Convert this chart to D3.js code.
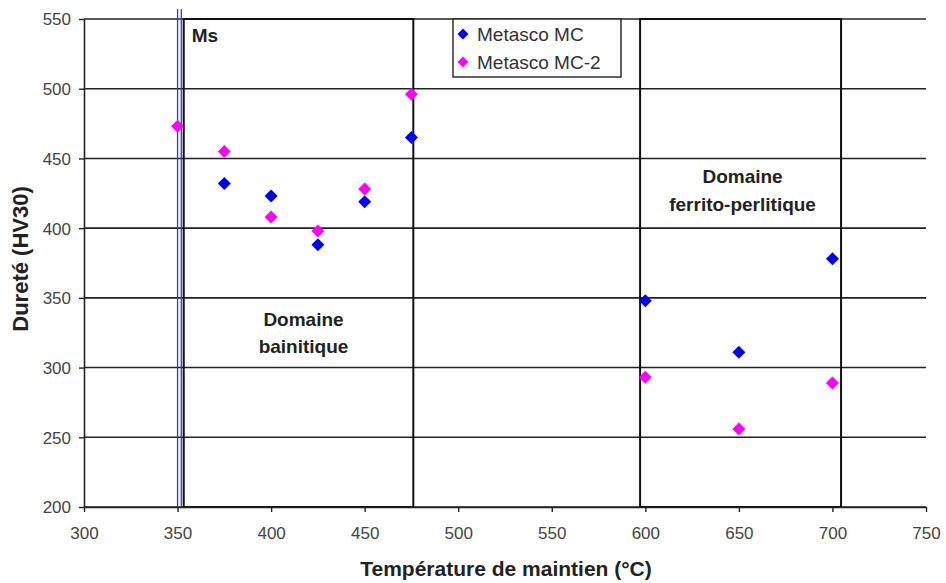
<!DOCTYPE html>
<html>
<head>
<meta charset="utf-8">
<script src="https://cdn.jsdelivr.net/npm/d3@7"></script>
<style>
  body { margin: 0; background: #fff; }
  text { font-family: "Liberation Sans", Arial, sans-serif; }
</style>
</head>
<body>
<div class="chart"></div>
<script>
// temperatures (°C) and hardness (HV30)
const tempsMC = [375, 400, 425, 450, 475, 600, 650, 700];
const hvMC = [432, 423, 388, 419, 465, 348, 311, 378];
const tempsMC2 = [350, 375, 400, 425, 450, 475, 600, 650, 700];
const hvMC2 = [473, 455, 408, 398, 428, 496, 293, 256, 289];
const seriesNames = ["Metasco MC", "Metasco MC-2"];
const xTicks = [300, 350, 400, 450, 500, 550, 600, 650, 700, 750];
const yTicks = [200, 250, 300, 350, 400, 450, 500, 550];
// domain boxes [x0, x1, yTop, yBottom] and Ms lines
const boxBainite = [353.3, 476, 550, 200];
const boxFerrite = [597.2, 704.6, 550, 200];
const msLines = [350, 352];

const width = 946, height = 583;
const margin = { top: 19, right: 20, bottom: 76, left: 84 };

const svg = d3.select(".chart").append("svg")
  .attr("width", width)
  .attr("height", height);

const x = d3.scaleLinear().domain([300, 750]).range([margin.left, width - margin.right]);
const y = d3.scaleLinear().domain([200, 550]).range([height - margin.bottom, margin.top]);

// rotated square, like the spreadsheet markers
const diamond = s => "M0," + -s + "L" + s + ",0L0," + s + "L" + -s + ",0Z";

// horizontal grid
svg.append("g")
  .selectAll("line")
  .data(yTicks)
  .enter().append("line")
  .attr("x1", x(300)).attr("x2", x(750))
  .attr("y1", d => y(d)).attr("y2", d => y(d))
  .attr("stroke", "#222").attr("stroke-width", 1.6);

// domain boxes
[boxBainite, boxFerrite].forEach(b => {
  svg.append("rect")
    .attr("x", x(b[0]))
    .attr("y", y(b[2]))
    .attr("width", x(b[1]) - x(b[0]))
    .attr("height", y(b[3]) - y(b[2]))
    .attr("fill", "none")
    .attr("stroke", "#111")
    .attr("stroke-width", 2);
});

// Ms lines
svg.append("g")
  .selectAll("line")
  .data(msLines)
  .enter().append("line")
  .attr("x1", d => x(d)).attr("x2", d => x(d))
  .attr("y1", y(550) - 10).attr("y2", y(200))
  .attr("stroke", "#3333ee").attr("stroke-width", 1.3);

// axes
const xAxis = d3.axisBottom(x).tickValues(xTicks).tickSize(5).tickSizeOuter(0);
const yAxis = d3.axisLeft(y).tickValues(yTicks).tickSize(5).tickSizeOuter(0);

const gx = svg.append("g")
  .attr("transform", "translate(0," + y(200) + ")")
  .call(xAxis);
const gy = svg.append("g")
  .attr("transform", "translate(" + x(300) + ",0)")
  .call(yAxis);

[gx, gy].forEach(g => {
  g.select(".domain").attr("stroke", "#222").attr("stroke-width", 1.6);
  g.selectAll(".tick line").attr("stroke", "#222").attr("stroke-width", 1.4);
  g.selectAll(".tick text")
    .attr("fill", "#444")
    .style("font-size", "17px")
    .style("font-family", "'Liberation Sans', Arial, sans-serif");
});
gx.selectAll(".tick text").attr("y", 20).attr("dy", "0.71em");
gy.selectAll(".tick text").attr("x", -13).attr("dy", "0.35em");

// markers
const mc = tempsMC.map((t, i) => ({ t: t, v: hvMC[i] }));
const mc2 = tempsMC2.map((t, i) => ({ t: t, v: hvMC2[i] }));

svg.append("g").selectAll("path")
  .data(mc2).enter().append("path")
  .attr("d", diamond(6.5))
  .attr("transform", d => "translate(" + x(d.t) + "," + y(d.v) + ")")
  .attr("fill", "#ff00ff");

svg.append("g").selectAll("path")
  .data(mc).enter().append("path")
  .attr("d", diamond(6.5))
  .attr("transform", d => "translate(" + x(d.t) + "," + y(d.v) + ")")
  .attr("fill", "#0000ee");

// annotations
svg.append("text")
  .attr("x", x(boxBainite[0]) + 8).attr("y", 42)
  .attr("font-size", 19).attr("font-weight", "bold").attr("fill", "#222")
  .text("Ms");

const bainite = svg.append("text")
  .attr("text-anchor", "middle")
  .attr("font-size", 19).attr("font-weight", "bold").attr("fill", "#222");
const bx = (x(boxBainite[0]) + x(boxBainite[1])) / 2 + 5;
bainite.append("tspan").attr("x", bx).attr("y", 326).text("Domaine");
bainite.append("tspan").attr("x", bx).attr("y", 353).text("bainitique");

const ferrite = svg.append("text")
  .attr("text-anchor", "middle")
  .attr("font-size", 19).attr("font-weight", "bold").attr("fill", "#222");
const fx = (x(boxFerrite[0]) + x(boxFerrite[1])) / 2 + 2;
ferrite.append("tspan").attr("x", fx).attr("y", 183).text("Domaine");
ferrite.append("tspan").attr("x", fx).attr("y", 211).text("ferrito-perlitique");

// legend
const legend = svg.append("g").attr("transform", "translate(453,19)");
legend.append("rect")
  .attr("width", 168).attr("height", 58)
  .attr("fill", "#fff").attr("stroke", "#222").attr("stroke-width", 1.4);
const legendColors = ["#0000ee", "#ff00ff"];
seriesNames.forEach((name, i) => {
  const row = legend.append("g").attr("transform", "translate(0," + (15 + i * 28) + ")");
  row.append("path")
    .attr("d", diamond(5.5))
    .attr("transform", "translate(10,0)")
    .attr("fill", legendColors[i]);
  row.append("text")
    .attr("x", 24).attr("y", 7)
    .attr("font-size", 19).attr("fill", "#333")
    .text(name);
});

// axis titles
svg.append("text")
  .attr("x", 506).attr("y", 576)
  .attr("text-anchor", "middle")
  .attr("font-size", 21).attr("font-weight", "bold").attr("fill", "#222")
  .text("Température de maintien (°C)");

svg.append("text")
  .attr("transform", "translate(28,259) rotate(-90)")
  .attr("text-anchor", "middle")
  .attr("font-size", 22).attr("font-weight", "bold").attr("fill", "#222")
  .text("Dureté (HV30)");
</script>
</body>
</html>
